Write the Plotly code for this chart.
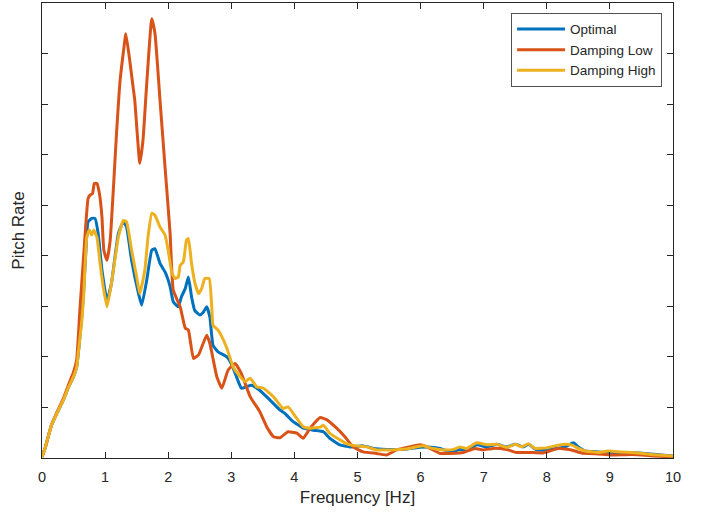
import plotly.graph_objects as go

# Common low-frequency part (all three curves nearly coincide)
f_common = [0.0, 0.05, 0.15, 0.25, 0.34, 0.42, 0.50, 0.55, 0.58]
v_common = [0.02, 0.20, 0.65, 0.92, 1.15, 1.40, 1.61, 1.80, 2.13]

f_opt = f_common + [0.63, 0.66, 0.70, 0.73, 0.79, 0.84, 0.89, 0.95, 1.03, 1.10, 1.21, 1.29, 1.34, 1.42, 1.53, 1.58,
                    1.66, 1.74, 1.79, 1.87, 1.95, 2.03, 2.08, 2.16, 2.21, 2.27, 2.32, 2.37, 2.42, 2.50, 2.56,
                    2.61, 2.66, 2.71, 2.79, 2.93, 3.01, 3.09, 3.16, 3.24, 3.32, 3.45, 3.61, 3.77, 3.85, 3.98,
                    4.09, 4.14, 4.30, 4.46, 4.56, 4.72, 4.88, 5.09, 5.25, 5.46, 5.73, 5.99, 6.10, 6.31, 6.47,
                    6.62, 6.73, 6.89, 7.05, 7.21, 7.36, 7.50, 7.63, 7.71, 7.84, 8.00, 8.29, 8.42, 8.50, 8.61,
                    8.82, 9.03, 9.29, 9.56, 10.0]
v_opt = v_common + [2.79, 3.30, 4.20, 4.67, 4.74, 4.74, 4.44, 3.72, 3.12, 3.45, 4.44, 4.67, 4.57, 3.91, 3.25, 3.02,
                    3.52, 4.11, 4.14, 3.85, 3.68, 3.39, 3.09, 2.99, 3.19, 3.35, 3.58, 3.19, 2.92, 2.83, 2.89,
                    2.99, 2.79, 2.23, 2.10, 2.00, 1.84, 1.58, 1.38, 1.41, 1.44, 1.34, 1.15, 0.95, 0.88, 0.72,
                    0.63, 0.59, 0.55, 0.52, 0.39, 0.26, 0.22, 0.24, 0.19, 0.17, 0.17, 0.21, 0.22, 0.19, 0.12,
                    0.17, 0.16, 0.26, 0.22, 0.27, 0.22, 0.27, 0.22, 0.27, 0.16, 0.16, 0.22, 0.30, 0.22, 0.14,
                    0.12, 0.10, 0.11, 0.09, 0.04]

f_low = [0.0, 0.05, 0.15, 0.25, 0.34, 0.42, 0.50, 0.55, 0.60, 0.66, 0.73, 0.76, 0.80, 0.83, 0.87, 0.91, 0.95,
         0.98, 1.03, 1.08, 1.13, 1.18, 1.24, 1.32, 1.33, 1.39, 1.44, 1.47, 1.55, 1.60, 1.66, 1.74, 1.79,
         1.87, 1.95, 2.03, 2.08, 2.19, 2.27, 2.32, 2.40, 2.48, 2.61, 2.66, 2.77, 2.85, 2.95, 3.06, 3.16,
         3.30, 3.45, 3.56, 3.67, 3.77, 3.90, 4.04, 4.14, 4.25, 4.41, 4.51, 4.67, 4.80, 4.93, 5.09, 5.30,
         5.46, 5.62, 5.83, 5.99, 6.10, 6.31, 6.47, 6.68, 6.86, 6.99, 7.15, 7.36, 7.52, 7.73, 7.94, 8.18,
         8.39, 8.55, 8.82, 9.03, 9.35, 9.71, 10.0]
v_low = [0.02, 0.20, 0.65, 0.94, 1.18, 1.45, 1.70, 1.95, 2.92, 4.00, 5.13, 5.20, 5.23, 5.43, 5.43, 5.23, 4.77,
         4.11, 3.91, 4.30, 5.30, 6.40, 7.50, 8.33, 8.39, 7.87, 7.37, 7.08, 5.83, 6.28, 7.41, 8.69, 8.40,
         7.08, 5.75, 4.45, 3.32, 2.99, 2.57, 2.53, 1.97, 2.04, 2.43, 2.27, 1.61, 1.38, 1.74, 1.87, 1.67,
         1.21, 0.92, 0.62, 0.42, 0.40, 0.52, 0.49, 0.39, 0.59, 0.80, 0.76, 0.59, 0.42, 0.22, 0.12, 0.09,
         0.06, 0.16, 0.22, 0.26, 0.22, 0.09, 0.09, 0.11, 0.19, 0.16, 0.19, 0.17, 0.11, 0.11, 0.10, 0.19,
         0.16, 0.10, 0.08, 0.06, 0.07, 0.04, 0.02]

f_high = f_common + [0.63, 0.66, 0.71, 0.75, 0.79, 0.82, 0.87, 0.92, 0.97, 1.03, 1.10, 1.21, 1.29, 1.34, 1.42,
                     1.50, 1.55, 1.63, 1.68, 1.74, 1.79, 1.87, 1.95, 2.00, 2.06, 2.11, 2.16, 2.19, 2.24, 2.29,
                     2.32, 2.37, 2.42, 2.48, 2.53, 2.58, 2.65, 2.69, 2.71, 2.79, 2.85, 2.93, 3.03, 3.14, 3.22,
                     3.30, 3.40, 3.51, 3.67, 3.82, 3.90, 4.04, 4.14, 4.25, 4.41, 4.46, 4.56, 4.72, 4.83, 4.99,
                     5.15, 5.30, 5.52, 5.78, 6.04, 6.15, 6.36, 6.52, 6.62, 6.73, 6.89, 7.05, 7.21, 7.36, 7.50,
                     7.60, 7.71, 7.81, 8.00, 8.13, 8.29, 8.39, 8.50, 8.61, 8.82, 8.97, 9.19, 9.45, 9.66, 10.0]
v_high = v_common + [2.70, 3.20, 4.37, 4.51, 4.41, 4.51, 4.37, 3.85, 3.39, 2.99, 3.45, 4.37, 4.70, 4.67, 4.11,
                     3.58, 3.25, 3.72, 4.37, 4.84, 4.80, 4.57, 4.41, 4.11, 3.65, 3.55, 3.58, 3.81, 3.88, 4.31,
                     4.34, 3.85, 3.48, 3.25, 3.35, 3.55, 3.55, 2.99, 2.63, 2.53, 2.40, 2.17, 1.80, 1.61, 1.51,
                     1.58, 1.41, 1.38, 1.21, 0.98, 1.01, 0.78, 0.62, 0.59, 0.61, 0.65, 0.49, 0.36, 0.28, 0.24,
                     0.22, 0.16, 0.16, 0.18, 0.24, 0.20, 0.16, 0.17, 0.22, 0.19, 0.30, 0.26, 0.27, 0.21, 0.27,
                     0.22, 0.28, 0.19, 0.20, 0.24, 0.27, 0.26, 0.19, 0.14, 0.11, 0.14, 0.12, 0.10, 0.07, 0.04]

series = [
    ("Optimal", f_opt, v_opt, "#0072BD"),
    ("Damping Low", f_low, v_low, "#D95319"),
    ("Damping High", f_high, v_high, "#EDB120"),
]

x_ticks = list(range(0, 11))
y_ticks = list(range(0, 10))

fig = go.Figure()
for name, fx, vy, col in series:
    fig.add_trace(go.Scatter(x=fx, y=vy, mode="lines", name=name,
                             line=dict(color=col, width=3, shape="spline", smoothing=0.4)))

axis_col = "#262626"
fig.update_layout(
    width=710, height=513,
    margin=dict(l=42, r=37, t=3, b=55),
    paper_bgcolor="white", plot_bgcolor="white",
    font=dict(family="Liberation Sans, Arial, sans-serif", color=axis_col, size=14),
    showlegend=True,
    legend=dict(x=0.983, y=0.978, xanchor="right", yanchor="top",
                bgcolor="white", bordercolor=axis_col, borderwidth=0.8,
                font=dict(size=13.5), itemwidth=48, tracegroupgap=0),
)
fig.update_xaxes(range=[0, 10], tickvals=x_ticks, ticktext=[str(t) for t in x_ticks],
                 ticks="inside", ticklen=6, tickcolor=axis_col, showline=True, linecolor=axis_col,
                 linewidth=1, mirror="ticks", showgrid=False, zeroline=False,
                 ticklabelstandoff=6,
                 title=dict(text="Frequency [Hz]", font=dict(size=17), standoff=6),
                 tickfont=dict(size=14.5))
fig.update_yaxes(range=[0, 9], tickvals=y_ticks, showticklabels=False,
                 ticks="inside", ticklen=6, tickcolor=axis_col, showline=True, linecolor=axis_col,
                 linewidth=1, mirror="ticks", showgrid=False, zeroline=False,
                 title=dict(text="Pitch Rate", font=dict(size=17), standoff=12))

fig.write_html("out.html")
